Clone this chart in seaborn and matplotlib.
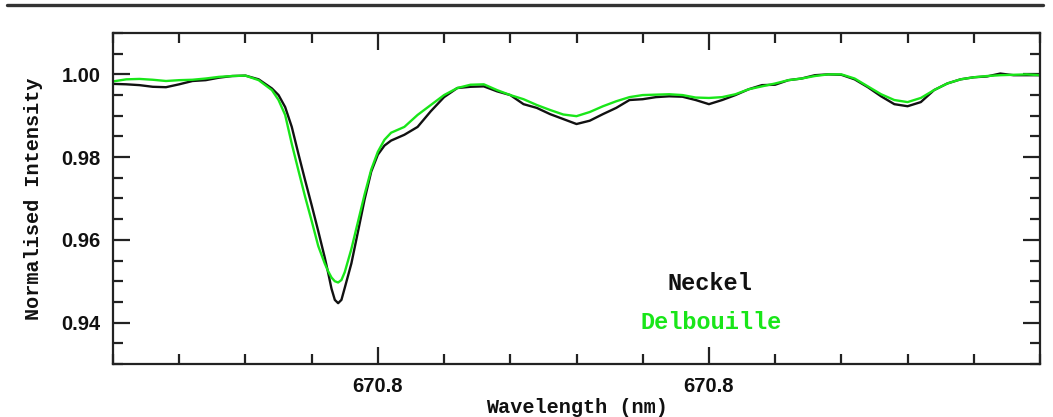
import numpy as np
import pandas as pd
import matplotlib
matplotlib.use("Agg")
import matplotlib.pyplot as plt
from matplotlib.lines import Line2D
from matplotlib.ticker import MultipleLocator, FixedLocator, FixedFormatter
import seaborn as sns

# ---------------- data ----------------
wavelength = [
    670.710, 670.712, 670.714, 670.716, 670.718, 670.720, 670.722, 670.724,
    670.726, 670.728, 670.730, 670.732, 670.734, 670.735, 670.736, 670.737,
    670.738, 670.739, 670.740, 670.741, 670.742, 670.7425, 670.743, 670.7435,
    670.744, 670.7445, 670.745,
    670.746, 670.747, 670.748, 670.749, 670.750, 670.751, 670.752,
    670.754, 670.756, 670.758, 670.760, 670.762, 670.764, 670.766, 670.768,
    670.770, 670.772, 670.774, 670.776, 670.778, 670.780, 670.782, 670.784,
    670.786, 670.788, 670.790, 670.792, 670.794, 670.796, 670.798, 670.800,
    670.802, 670.804, 670.806, 670.808, 670.810, 670.812, 670.814, 670.816,
    670.818, 670.820, 670.822, 670.824, 670.826, 670.828, 670.830, 670.832,
    670.834, 670.836, 670.838, 670.840, 670.842, 670.844, 670.846, 670.848,
    670.850,
]

neckel = [
    0.9977, 0.9976, 0.9974, 0.9970, 0.9969, 0.9976, 0.9984, 0.9986,
    0.9992, 0.9996, 0.9997, 0.9988, 0.9966, 0.9950, 0.9921, 0.9873,
    0.9808, 0.9745, 0.9684, 0.9621, 0.9556, 0.9520, 0.9482, 0.9455,
    0.9447, 0.9455, 0.9484,
    0.9543, 0.9620, 0.9698, 0.9765, 0.9806, 0.9828, 0.9840,
    0.9854, 0.9873, 0.9911, 0.9945, 0.9967, 0.9970, 0.9971, 0.9959,
    0.9950, 0.9928, 0.9919, 0.9904, 0.9892, 0.9880, 0.9888, 0.9904,
    0.9919, 0.9938, 0.9940, 0.9945, 0.9947, 0.9946, 0.9938, 0.9928,
    0.9938, 0.9950, 0.9964, 0.9974, 0.9975, 0.9986, 0.9990, 0.9998,
    1.0000, 0.9999, 0.9988, 0.9969, 0.9947, 0.9928, 0.9923, 0.9933,
    0.9962, 0.9978, 0.9988, 0.9993, 0.9995, 1.0002, 0.9998, 0.9998,
    0.9998,
]

delbouille = [
    0.9983, 0.9988, 0.9989, 0.9987, 0.9984, 0.9986, 0.9987, 0.9990,
    0.9994, 0.9996, 0.9997, 0.9986, 0.9962, 0.9938, 0.9902, 0.9832,
    0.9768, 0.9705, 0.9646, 0.9585, 0.9542, 0.9524, 0.9509, 0.9500,
    0.9497, 0.9503, 0.9522,
    0.9578, 0.9644, 0.9710, 0.9770, 0.9813, 0.9842, 0.9859,
    0.9873, 0.9902, 0.9926, 0.9950, 0.9967, 0.9975, 0.9976, 0.9962,
    0.9950, 0.9940, 0.9926, 0.9914, 0.9903, 0.9899, 0.9909, 0.9923,
    0.9935, 0.9945, 0.9950, 0.9951, 0.9952, 0.9950, 0.9944, 0.9943,
    0.9945, 0.9952, 0.9964, 0.9971, 0.9978, 0.9986, 0.9990, 0.9996,
    1.0000, 1.0000, 0.9990, 0.9971, 0.9952, 0.9938, 0.9933, 0.9943,
    0.9962, 0.9978, 0.9988, 0.9993, 0.9996, 0.9998, 0.9999, 1.0000,
    0.9998,
]

series_names = ["Neckel", "Delbouille"]
series_colors = ["#111111", "#19e619"]
x_major_ticks = [670.75, 670.80]
x_tick_labels = ["670.8", "670.8"]
y_major_ticks = [0.94, 0.96, 0.98, 1.00]
x_label = "Wavelength (nm)"
y_label = "Normalised Intensity"

df = pd.DataFrame({
    "wavelength": wavelength * 2,
    "intensity": neckel + delbouille,
    "source": [series_names[0]] * len(wavelength) + [series_names[1]] * len(wavelength),
})

# ---------------- style ----------------
sns.set_style("ticks")
plt.rcParams["font.family"] = ["Liberation Sans", "DejaVu Sans"]

fig = plt.figure(figsize=(10.53, 4.17), dpi=100)
ax = fig.add_axes([113 / 1053, 1 - 364 / 417, 927 / 1053, 331 / 417])

sns.lineplot(data=df, x="wavelength", y="intensity", hue="source",
             palette=dict(zip(series_names, series_colors)),
             hue_order=series_names, estimator=None, sort=False,
             linewidth=1.7, legend=False, ax=ax)

ax.set_xlim(670.71, 670.85)
ax.set_ylim(0.930, 1.010)

ax.xaxis.set_major_locator(FixedLocator(x_major_ticks))
ax.xaxis.set_major_formatter(FixedFormatter(x_tick_labels))
ax.xaxis.set_minor_locator(MultipleLocator(0.01))
ax.yaxis.set_major_locator(FixedLocator(y_major_ticks))
ax.yaxis.set_major_formatter(matplotlib.ticker.FormatStrFormatter("%.2f"))
ax.yaxis.set_minor_locator(MultipleLocator(0.005))

ax.tick_params(which="both", direction="in", top=True, right=True,
               color="#222222", width=1.6)
ax.tick_params(which="major", length=12, pad=9, labelsize=14.5)
ax.tick_params(which="minor", length=7)
for lab in ax.get_xticklabels() + ax.get_yticklabels():
    lab.set_fontweight("bold")
    lab.set_color("#111111")

for sp in ax.spines.values():
    sp.set_visible(True)
    sp.set_linewidth(1.6)
    sp.set_color("#222222")

mono = ["Liberation Mono", "DejaVu Sans Mono"]
ax.set_xlabel(x_label, fontsize=14.5, fontweight="bold", family=mono,
              color="#111111", labelpad=2)
ax.set_ylabel(y_label, fontsize=14.5, fontweight="bold", family=mono,
              color="#111111", labelpad=13)

ax.text(0.644, 0.243, series_names[0], transform=ax.transAxes, ha="center",
        va="center", fontsize=17, fontweight="bold", family=mono,
        color=series_colors[0])
ax.text(0.645, 0.124, series_names[1], transform=ax.transAxes, ha="center",
        va="center", fontsize=17, fontweight="bold", family=mono,
        color=series_colors[1])

fig.add_artist(Line2D([7 / 1053, 1043 / 1053], [1 - 5 / 417] * 2,
                      transform=fig.transFigure, color="#333333", lw=2.4))

fig.savefig("out.png", dpi=100)
